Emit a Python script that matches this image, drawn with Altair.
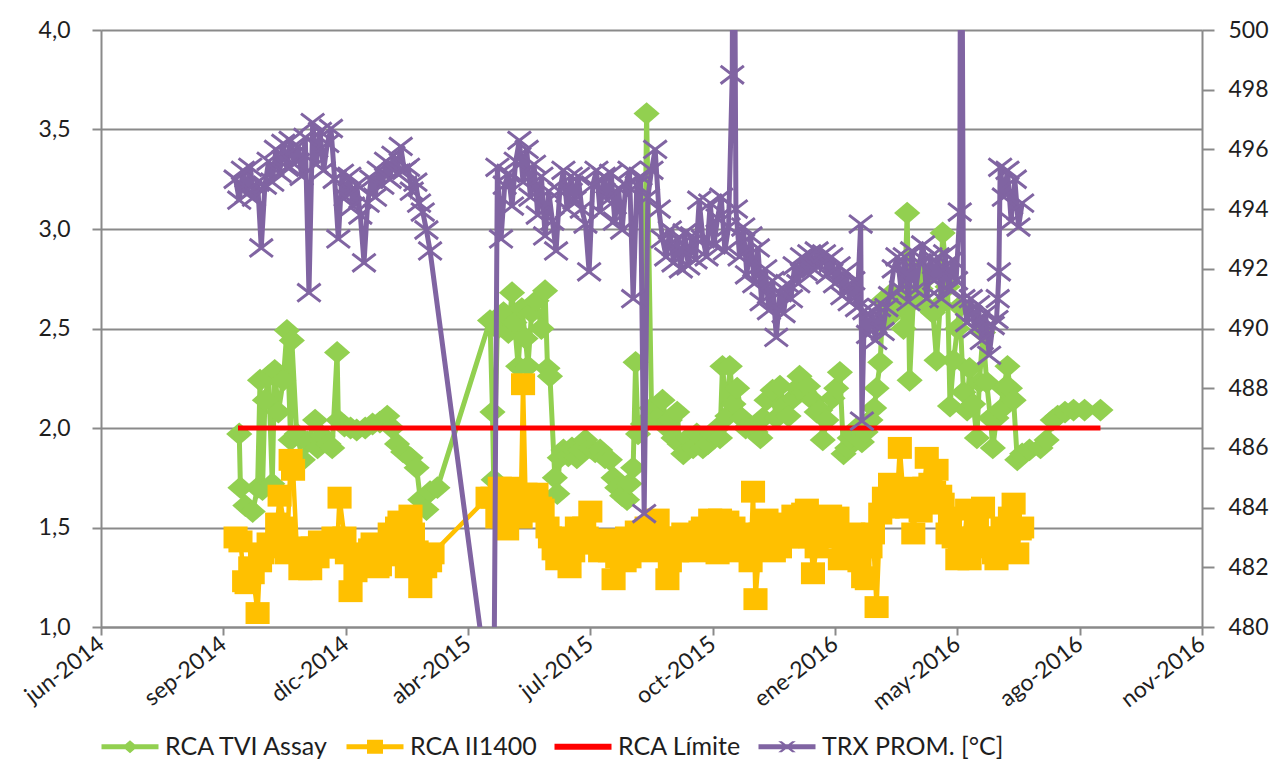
import altair as alt
import pandas as pd

# ---------------- data (x = days since 2014-06-10, the first date tick) ----------------
X_TICK_DAYS = [0, 100, 200, 300, 400, 500, 600, 700, 800, 900]
X_TICK_LABELS = ["jun-2014", "sep-2014", "dic-2014", "abr-2015", "jul-2015",
                 "oct-2015", "ene-2016", "may-2016", "ago-2016", "nov-2016"]
Y_LEFT_TICKS = [1.0, 1.5, 2.0, 2.5, 3.0, 3.5, 4.0]
Y_RIGHT_TICKS = [480, 482, 484, 486, 488, 490, 492, 494, 496, 498, 500]

SERIES = ["RCA TVI Assay", "RCA II1400", "RCA Límite", "TRX PROM. [°C]"]
COLORS = ["#92D050", "#FFC000", "#FF0000", "#8064A2"]

GREEN_DAYS = [113, 114, 118, 124, 128, 130, 132, 134, 137, 140, 142, 145, 149, 152, 155, 156, 160, 165,
              169, 175, 177, 181, 186, 189, 193, 194, 199, 204, 209, 216, 222, 228, 234, 238, 242, 247,
              253, 258, 261, 266, 269, 275,
              318, 320, 321, 324, 329, 333, 336, 338, 341, 344, 347, 349, 352, 356, 360, 363, 365, 367,
              371, 373, 375, 378, 382, 385, 389, 392, 396, 400, 404, 408, 412, 416, 419, 422, 426, 430,
              432, 435, 437, 439, 443, 446, 450, 455, 459, 463, 465, 468, 471, 473, 476, 480, 484, 487,
              492, 496, 500, 504, 506, 508, 512, 514, 517, 520, 524, 527, 531, 535, 539, 541, 544, 549,
              552, 555, 558, 562, 566, 569, 571, 575, 578, 582, 585, 588, 590, 593, 598, 601, 604, 607,
              610, 612, 615, 618, 622, 625, 629, 632, 634, 637, 639, 643, 647, 651, 654, 656, 659, 661,
              664, 667, 670, 674, 677, 680, 683, 686, 688, 692, 694, 697, 700, 702, 705, 708, 710, 713,
              716, 718, 721, 724, 727, 729, 732, 735, 738, 741, 743, 746, 749, 753, 759, 768, 773, 778,
              782, 788, 795, 804, 817]
GREEN_VALS = [1.97, 1.70, 1.61, 1.58, 1.70, 2.24, 1.69, 2.14, 2.26, 1.72, 2.29, 2.08, 2.24, 2.49, 1.94, 2.44,
              1.97, 1.84, 1.93, 2.04, 1.90, 1.96, 1.92, 1.90, 2.38, 2.04, 2.01, 2.00, 1.99, 2.00, 2.02, 2.03,
              2.06, 2.00, 1.92, 1.88, 1.85, 1.80, 1.64, 1.59, 1.68, 1.70,
              2.54, 2.08, 1.74, 2.50, 2.58, 2.48, 2.68, 2.53, 2.31, 2.60, 2.45, 2.31, 2.58, 2.64, 2.50, 2.69,
              2.30, 2.26, 1.75, 1.67, 1.85, 1.89, 1.86, 1.90, 1.85, 1.89, 1.94, 1.90, 1.88, 1.89, 1.85, 1.84,
              1.75, 1.70, 1.66, 1.64, 1.72, 1.80, 2.33, 1.97, 2.02, 3.58, 2.10, 2.05, 2.14, 2.00, 2.04, 1.95,
              2.08, 1.92, 1.87, 1.95, 1.90, 1.97, 1.90, 1.92, 1.97, 2.00, 1.95, 2.31, 2.06, 2.31, 2.12, 2.20,
              2.05, 2.00, 2.00, 1.98, 1.95, 2.05, 2.14, 2.19, 2.05, 2.21, 2.11, 2.06, 2.15, 2.20, 2.26, 2.18,
              2.21, 2.14, 2.08, 2.09, 1.94, 2.04, 2.15, 2.20, 2.28, 1.87, 1.90, 1.95, 1.97, 2.00, 1.93, 1.98,
              2.04, 2.10, 2.20, 2.33, 2.64, 2.55, 2.68, 2.60, 2.65, 2.50, 3.08, 2.24, 2.64, 2.78, 2.70, 2.75,
              2.60, 2.58, 2.34, 2.62, 2.98, 2.71, 2.11, 2.34, 2.50, 2.61, 2.18, 2.09, 2.30, 2.12, 1.95, 2.23,
              2.48, 2.23, 2.05, 1.90, 2.05, 2.09, 2.20, 2.31, 2.20, 2.14, 1.84, 1.87, 1.89, 1.90, 1.94, 2.04,
              2.06, 2.08, 2.09, 2.09, 2.09]

YELLOW_DAYS = [110, 114, 117, 119, 122, 124, 128, 130, 132, 137, 141, 144, 146, 150, 152, 155, 157, 160,
               163, 167, 171, 173, 177, 179, 183, 187, 190, 193, 195, 199, 201, 204, 208, 212, 216, 220,
               222, 226, 228, 231, 234, 236, 239, 242, 244, 247, 250, 253, 255, 258, 261, 265, 269, 271,
               316, 320, 324, 326, 329, 332, 334, 337, 340, 343, 345, 347, 351, 353, 356, 359, 361, 365,
               367, 370, 373, 375, 378, 381, 383, 386, 389, 392, 395, 397, 400, 403, 405, 408, 411, 414,
               416, 419, 422, 424, 428, 430, 432, 435, 438, 441, 443, 446, 449, 452, 455, 457, 460, 463,
               465, 468, 471, 473, 476, 479, 482, 485, 487, 490, 492, 495, 498, 501, 504, 506, 509, 512,
               514, 517, 520, 522, 526, 528, 531, 533, 535, 539, 542, 544, 548, 550, 553, 555, 558, 561,
               563, 566, 569, 571, 574, 577, 580, 582, 585, 588, 590, 593, 596, 598, 602, 604, 607, 610,
               612, 615, 618, 620, 623, 626, 629, 631, 634, 637, 640, 643, 645, 648, 651, 653, 656, 659,
               661, 664, 667, 670, 673, 675, 678, 681, 683, 686, 688, 692, 694, 697, 700, 702, 705, 708,
               710, 714, 716, 719, 721, 724, 727, 730, 732, 735, 737, 741, 743, 746, 749, 751, 753]
YELLOW_VALS = [1.45, 1.43, 1.23, 1.22, 1.30, 1.27, 1.07, 1.33, 1.37, 1.42, 1.40, 1.52, 1.66, 1.50, 1.37, 1.84,
               1.79, 1.40, 1.29, 1.36, 1.29, 1.40, 1.35, 1.43, 1.40, 1.40, 1.45, 1.40, 1.65, 1.45, 1.37, 1.18,
               1.28, 1.33, 1.36, 1.39, 1.42, 1.30, 1.31, 1.40, 1.36, 1.47, 1.46, 1.50, 1.53, 1.40, 1.30, 1.56,
               1.47, 1.38, 1.20, 1.30, 1.33, 1.37,
               1.65, 1.65, 1.55, 1.70, 1.55, 1.49, 1.70, 1.60, 1.65, 1.55, 2.22, 1.67, 1.58, 1.62, 1.67, 1.60,
               1.59, 1.50, 1.45, 1.39, 1.34, 1.45, 1.40, 1.35, 1.30, 1.38, 1.50, 1.43, 1.50, 1.45, 1.58, 1.42,
               1.42, 1.38, 1.40, 1.44, 1.38, 1.24, 1.35, 1.40, 1.33, 1.45, 1.35, 1.40, 1.48, 1.42, 1.47, 1.50,
               1.38, 1.52, 1.54, 1.45, 1.40, 1.24, 1.33, 1.42, 1.38, 1.45, 1.47, 1.40, 1.43, 1.38, 1.45, 1.48,
               1.50, 1.45, 1.54, 1.44, 1.37, 1.54, 1.45, 1.53, 1.42, 1.50, 1.45, 1.38, 1.47, 1.40, 1.33, 1.68,
               1.14, 1.47, 1.42, 1.54, 1.45, 1.38, 1.43, 1.40, 1.50, 1.45, 1.52, 1.56, 1.45, 1.50, 1.57, 1.59,
               1.45, 1.27, 1.40, 1.48, 1.52, 1.45, 1.56, 1.50, 1.55, 1.34, 1.40, 1.45, 1.38, 1.47, 1.44, 1.33,
               1.25, 1.24, 1.40, 1.47, 1.10, 1.57, 1.65, 1.60, 1.72, 1.62, 1.68, 1.90, 1.65, 1.60, 1.70, 1.47,
               1.64, 1.58, 1.70, 1.85, 1.72, 1.68, 1.79, 1.66, 1.62, 1.47, 1.55, 1.45, 1.34, 1.40, 1.38, 1.59,
               1.34, 1.45, 1.50, 1.42, 1.60, 1.40, 1.45, 1.37, 1.34, 1.45, 1.50, 1.45, 1.55, 1.62, 1.37, 1.49,
               1.50]

RED_DAYS = [112, 817]
RED_VALS = [2.0, 2.0]

# TRX PROM: two runs of readings every 3 days plus a few isolated readings
TRX_STEP = 3
TRX_SEG1_START = 110
TRX_SEG1 = [495.0, 494.3, 495.3, 494.5, 495.4, 494.4, 494.9, 492.7, 494.8, 495.6,
            494.9, 496.0, 495.2, 496.2, 495.4, 496.3, 495.5, 496.1, 495.1, 496.4,
            491.2, 496.9, 495.5, 496.6, 495.3, 496.2, 496.7, 495.0, 493.0, 495.2,
            494.4, 495.1, 494.1, 494.8, 493.8, 492.2, 494.2, 495.0, 494.4, 495.3,
            494.8, 495.6, 495.0, 495.8, 495.2, 496.1, 495.3, 495.4, 494.6, 494.9,
            494.2, 493.9, 493.3, 492.6]
TRX_SEG2_START = 324
TRX_SEG2 = [495.4, 493.0, 494.8, 495.2, 494.1, 495.6, 496.3, 494.9, 496.0, 494.4,
            495.5, 493.8, 495.1, 493.1, 494.6, 493.6, 492.6, 494.6, 495.3, 494.0,
            495.1, 494.3, 495.1, 494.0, 493.5, 491.9, 494.8, 495.3, 493.9, 495.1,
            494.3, 495.2, 493.6, 494.7, 493.3, 494.8, 495.3, 491.0, 494.8, 495.1,
            483.8, 494.4, 495.3, 496.0, 494.0, 493.0, 492.4, 493.3, 492.2, 493.0,
            492.0, 493.2, 492.1, 493.1, 492.3, 494.3, 493.0, 492.4, 494.2, 492.8,
            493.7, 494.4, 492.6, 493.4, 498.5, 494.0, 492.4, 493.4, 491.8, 493.1,
            491.5, 492.7, 490.9, 492.0, 490.6, 491.6, 489.7, 491.2, 490.5, 491.5,
            491.0, 492.1, 491.5, 492.4, 491.9, 492.5, 492.0, 492.6, 492.1, 492.5,
            491.8, 492.4, 491.5, 492.1, 491.1, 491.9, 490.9, 491.6, 490.7, 493.5,
            490.6, 489.8, 490.6, 489.6, 490.7, 489.9, 490.7, 491.1, 492.0, 492.4,
            491.3, 492.4, 490.9, 492.6, 491.3, 492.2, 492.8, 491.0, 492.4, 491.6,
            492.4, 491.0, 492.5, 491.3, 492.3, 491.6, 493.9, 491.0, 490.2, 491.0,
            490.0, 490.8, 489.6, 490.5, 489.1, 490.1, 490.3, 495.4, 494.4, 495.3,
            493.6, 495.0, 493.4, 494.2]
TRX_EXTRA_DAYS = [321, 517, 622, 703, 733, 734]
TRX_EXTRA_VALS = [476.5, 512.0, 486.9, 512.0, 491.0, 491.9]

# ---------------- styling ----------------
FONT = "Lato"
GRAY = "#8a8a8a"
TEXT = "#1e1e1e"

# marker shapes (slightly wide, like the stretched original)
DIAMOND = "M-1.15,0L0,-1L1.15,0L0,1Z"
SQUARE = "M-1.1,-1H1.1V1H-1.1Z"
XMARK = "M-1.3,-1L1.3,1M-1.3,1L1.3,-1"

# legend symbols: a line segment with the series marker in the middle
BAR = "M-4.7,-0.25V0.25H1V-0.25Z"
BAR_RED = "M-4.7,-0.3V0.3H1V-0.3Z"
LEG_DIAMOND = "M-1.85,-0.65L-2.6,0L-1.85,0.65L-1.1,0Z"
LEG_SQUARE = "M-2.65,-0.7V0.7H-1.05V-0.7Z"
LEG_X = ("M-2.73,-0.55L-1.33,0.55L-0.97,0.55L-2.37,-0.55Z"
         "M-2.73,0.55L-2.37,0.55L-0.97,-0.55L-1.33,-0.55Z")
LEGEND_SHAPES = [BAR + LEG_DIAMOND, BAR + LEG_SQUARE, BAR_RED, BAR + LEG_X]

# ---------------- tables ----------------
green_df = pd.DataFrame({"dia": GREEN_DAYS, "valor": GREEN_VALS})
yellow_df = pd.DataFrame({"dia": YELLOW_DAYS, "valor": YELLOW_VALS})
red_df = pd.DataFrame({"dia": RED_DAYS, "valor": RED_VALS})
trx_days = ([TRX_SEG1_START + TRX_STEP * i for i in range(len(TRX_SEG1))]
            + [TRX_SEG2_START + TRX_STEP * i for i in range(len(TRX_SEG2))]
            + TRX_EXTRA_DAYS)
trx_vals = TRX_SEG1 + TRX_SEG2 + TRX_EXTRA_VALS
trx_df = pd.DataFrame({"dia": trx_days, "valor": trx_vals}).sort_values("dia")
legend_df = pd.DataFrame({"serie": SERIES})

x_labels_js = "[" + ",".join(f"'{s}'" for s in X_TICK_LABELS) + "]"
x_days_js = "[" + ",".join(str(d) for d in X_TICK_DAYS) + "]"

x_enc = alt.X(
    "dia:Q",
    scale=alt.Scale(domain=[X_TICK_DAYS[0], X_TICK_DAYS[-1]], nice=False, zero=False),
    axis=alt.Axis(
        title=None, values=X_TICK_DAYS, grid=False,
        labelExpr=f"{x_labels_js}[indexof({x_days_js}, datum.value)]",
        labelAngle=-38, labelAlign="right", labelBaseline="middle",
        labelFont=FONT, labelFontSize=23, labelColor=TEXT, labelPadding=6,
        tickSize=8, tickColor=GRAY, tickWidth=2, domainColor=GRAY, domainWidth=2,
        labelOverlap=False,
    ),
)

y_left = alt.Y(
    "valor:Q",
    scale=alt.Scale(domain=[Y_LEFT_TICKS[0], Y_LEFT_TICKS[-1]], nice=False, zero=False),
    axis=alt.Axis(
        title=None, orient="left", values=Y_LEFT_TICKS,
        labelExpr="replace(format(datum.value, '.1f'), '.', ',')",
        grid=True, gridColor=GRAY, gridWidth=2,
        labelFont=FONT, labelFontSize=23, labelColor=TEXT, labelPadding=22,
        tickSize=9, tickColor=GRAY, tickWidth=2, domainColor=GRAY, domainWidth=2,
        minExtent=88, maxExtent=88,
    ),
)

y_right = alt.Y(
    "valor:Q",
    scale=alt.Scale(domain=[Y_RIGHT_TICKS[0], Y_RIGHT_TICKS[-1]], nice=False, zero=False),
    axis=alt.Axis(
        title=None, orient="right", values=Y_RIGHT_TICKS, grid=False,
        labelFont=FONT, labelFontSize=23, labelColor=TEXT, labelPadding=14,
        tickSize=12, tickColor=GRAY, tickWidth=2, domainColor=GRAY, domainWidth=2,
    ),
)


def series_layers(df, y_enc, color, shape, size, filled=True, stroke_w=5, point_stroke=None):
    base = alt.Chart(df).encode(x=x_enc, y=y_enc)
    line = base.mark_line(color=color, strokeWidth=stroke_w, clip=True)
    if shape is None:
        return [line]
    pkw = dict(shape=shape, size=size, color=color, opacity=1, filled=filled, clip=True)
    if point_stroke is not None:
        pkw["strokeWidth"] = point_stroke
    pts = base.mark_point(**pkw)
    return [line, pts]


green_layers = series_layers(green_df, y_left, COLORS[0], DIAMOND, 520)
yellow_layers = series_layers(yellow_df, y_left, COLORS[1], SQUARE, 480, stroke_w=4.5)
red_layers = series_layers(red_df, y_left, COLORS[2], None, 0, stroke_w=5)
trx_layers = series_layers(trx_df, y_right, COLORS[3], XMARK, 320, filled=False, point_stroke=3)

legend_def = alt.Legend(
    title=None, orient="none", legendX=35, legendY=704, direction="horizontal",
    labelFont=FONT, labelFontSize=25, labelColor=TEXT, labelOffset=4, labelLimit=400,
    symbolSize=400, symbolStrokeWidth=0, columnPadding=16, padding=0,
)
legend_layer = alt.Chart(legend_df).mark_point(filled=True, opacity=1, size=400).encode(
    color=alt.Color("serie:N", scale=alt.Scale(domain=SERIES, range=COLORS), legend=legend_def),
    shape=alt.Shape("serie:N", scale=alt.Scale(domain=SERIES, range=LEGEND_SHAPES), legend=legend_def),
).transform_filter("false")

rca = alt.layer(*green_layers, *yellow_layers, *red_layers, legend_layer)
trx = alt.layer(*trx_layers)

chart = (
    alt.layer(rca, trx)
    .resolve_scale(y="independent")
    .properties(width=1101, height=597,
                padding={"left": 5, "top": 11, "right": 0, "bottom": 5})
    .configure_view(stroke=None)
    .configure(background="white")
)

chart.save("out.html", embed_options={"renderer": "svg", "actions": False})
